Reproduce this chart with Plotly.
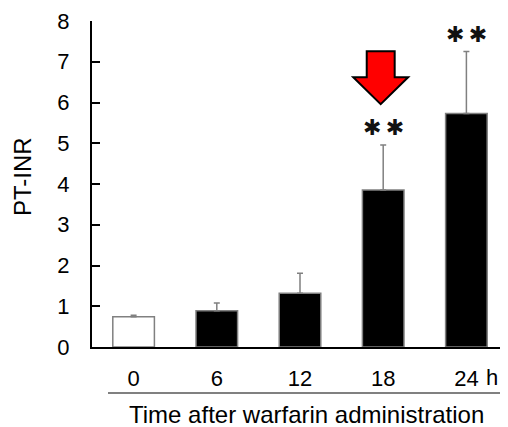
import plotly.graph_objects as go

categories = ["0", "6", "12", "18", "24"]
pt_inr = [0.74, 0.89, 1.32, 3.85, 5.73]
sd_upper = [0.04, 0.19, 0.49, 1.11, 1.52]
bar_colors = ["white", "black", "black", "black", "black"]
y_ticks = [0, 1, 2, 3, 4, 5, 6, 7, 8]
sig_marks = {"18": "✱\u2009✱", "24": "✱\u2009✱"}

OFF = 8  # page body margin
W, H = 508 - OFF, 427 - OFF
L, R, T, B = 92 - OFF, 0, 21 - OFF, 427 - 347
PW, PH = W - L - R, H - T - B
font = "Liberation Sans, Arial, sans-serif"


def px(x):
    return (x - 92) / PW


def py(y):
    return (347 - y) / PH


fig = go.Figure()
fig.add_trace(go.Bar(
    x=categories, y=pt_inr,
    marker=dict(color=bar_colors, line=dict(color="#808080", width=1.5)),
    width=0.5,
    error_y=dict(type="data", symmetric=False, array=sd_upper,
                 arrayminus=[0] * len(sd_upper),
                 color="#808080", thickness=1.5, width=3),
    showlegend=False,
))

# significance asterisks
for cat, txt in sig_marks.items():
    i = categories.index(cat)
    fig.add_annotation(x=i, y=pt_inr[i] + sd_upper[i], yshift=17,
                       text=txt, showarrow=False, yanchor="middle",
                       font=dict(family="DejaVu Sans", size=22, color="#111"))

# red arrow above 18 h bar
cx = 3 - 0.03
sh, hh = 0.168, 0.33
y_top, y_base, y_tip = 7.26, 6.62, 5.96
path = (f"M {cx-sh},{y_top} L {cx+sh},{y_top} L {cx+sh},{y_base} "
        f"L {cx+hh},{y_base} L {cx},{y_tip} L {cx-hh},{y_base} "
        f"L {cx-sh},{y_base} Z")
fig.add_shape(type="path", path=path, xref="x", yref="y",
              fillcolor="#ff0000", line=dict(color="black", width=2))

# gray line under tick labels
fig.add_shape(type="line", xref="paper", yref="paper",
              x0=px(108), x1=px(506), y0=py(393), y1=py(393),
              line=dict(color="#808080", width=2))

# "h" unit after 24
fig.add_annotation(x=4, y=0, xshift=26, yshift=-30, text="h",
                   showarrow=False, xanchor="center", yanchor="middle",
                   font=dict(family=font, size=22, color="black"))

# axis titles
fig.add_annotation(xref="paper", yref="paper", x=px(306), y=py(415),
                   text="Time after warfarin administration", showarrow=False,
                   xanchor="center", yanchor="middle",
                   font=dict(family=font, size=24, color="black"))
fig.add_annotation(xref="paper", yref="paper", x=px(22), y=py(177),
                   text="PT-INR", showarrow=False, textangle=-90,
                   xanchor="center", yanchor="middle",
                   font=dict(family=font, size=24, color="black"))

fig.update_layout(
    width=W, height=H,
    margin=dict(l=L, r=R, t=T, b=B, pad=0),
    plot_bgcolor="white", paper_bgcolor="white",
    font=dict(family=font, size=22, color="black"),
)
fig.update_xaxes(type="category", range=[-0.5, 4.5], showline=True,
                 linecolor="black", linewidth=2, ticks="", showgrid=False,
                 ticklabelstandoff=11, zeroline=False)
fig.update_yaxes(range=[0, 8], tickvals=y_ticks, showline=True,
                 linecolor="black", linewidth=2, ticks="inside", ticklen=8,
                 tickwidth=2, tickcolor="black", showgrid=False,
                 zeroline=False, ticklabelstandoff=16)

fig.write_html("out.html")
